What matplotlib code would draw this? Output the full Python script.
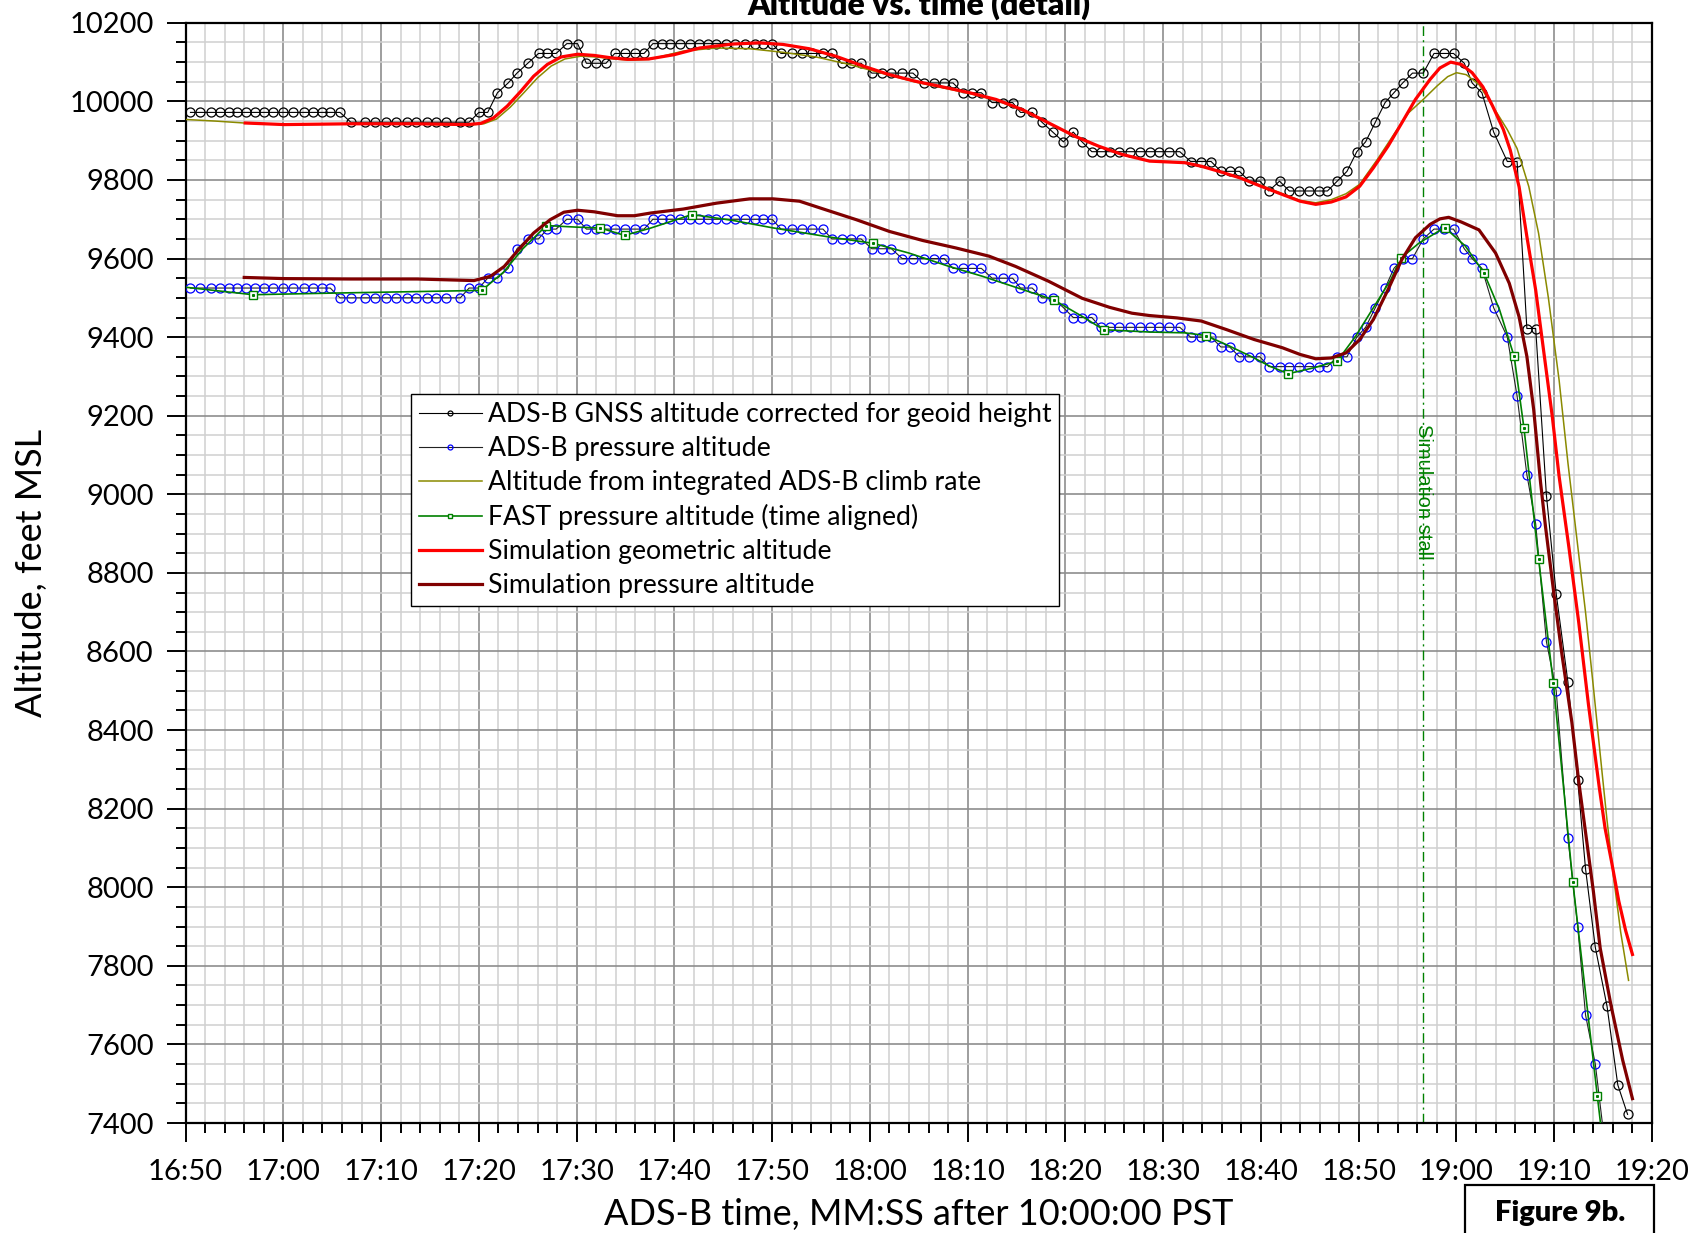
import numpy as np
import matplotlib
matplotlib.use("Agg")
import matplotlib.pyplot as plt
from matplotlib.ticker import MultipleLocator, FuncFormatter
from matplotlib.patches import Rectangle

plt.rcParams['font.family'] = ['Lato', 'DejaVu Sans']

# ADS-B message times (s, shown as MM:SS)
adsb_t = [
    1010.5, 1011.5, 1012.6, 1013.5, 1014.4, 1015.3, 1016.2, 1017.1, 1018.0, 1018.9,
    1020.0, 1021.0, 1022.1, 1023.0, 1024.0, 1024.8, 1025.8, 1026.9, 1028.4, 1029.4,
    1030.5, 1031.5, 1032.7, 1033.6, 1034.7, 1035.6, 1036.6, 1038.1, 1039.0, 1040.0,
    1040.9, 1041.9, 1043.0, 1043.9, 1045.0, 1046.1, 1047.0, 1047.9, 1049.0, 1050.1,
    1051.0, 1052.0, 1053.0, 1053.9, 1054.9, 1056.0, 1056.9,
    1057.8, 1058.7, 1059.6, 1060.6, 1061.6, 1062.5, 1063.4, 1064.3, 1065.3, 1066.2,
    1067.2, 1068.2, 1069.1, 1070.0, 1070.9, 1072.0, 1073.1, 1074.1, 1075.2, 1076.1,
    1077.1, 1078.1, 1079.1, 1080.2, 1081.2, 1082.2, 1083.3, 1084.4, 1085.5, 1086.6,
    1087.6, 1088.5, 1089.5, 1090.4, 1091.4, 1092.5, 1093.6, 1094.6, 1095.4, 1096.6,
    1097.6, 1098.7, 1099.8, 1100.8, 1101.7, 1102.7, 1103.6, 1104.6, 1105.5, 1106.6,
    1107.6, 1108.6,
    1109.6, 1110.6, 1111.7, 1112.8, 1113.9, 1114.9, 1115.9, 1116.8, 1117.8, 1118.8,
    1119.9, 1120.8, 1121.9, 1122.9, 1123.9, 1124.9, 1125.9, 1126.8, 1127.8, 1128.8,
    1129.8, 1130.7, 1131.7, 1132.7, 1133.6, 1134.5, 1135.5, 1136.6, 1137.7, 1138.7,
    1139.7, 1140.8, 1141.6, 1142.6, 1143.8, 1145.2, 1146.2, 1147.2, 1148.1, 1149.2,
    1150.2, 1151.4, 1152.4, 1153.2, 1154.2, 1155.4, 1156.5, 1157.5,
]

gnss_alt = (
    [9972] * 17 + [9947] * 12 + [9972] * 2 + [10022, 10047, 10072, 10097]
    + [10122] * 3 + [10147] * 2 + [10097] * 3 + [10122] * 4
    + [10147] * 14 + [10122] * 6 + [10097] * 3 + [10072] * 5 + [10047] * 4
    + [10022] * 3 + [9997] * 3 + [9972] * 2 + [9947, 9922, 9897, 9922, 9897]
    + [9872] * 7
    + [9872] * 3 + [9847] * 3 + [9822] * 3 + [9797] * 2 + [9772, 9797]
    + [9772] * 5 + [9797, 9822, 9872, 9897, 9947, 9997, 10022, 10047]
    + [10072] * 2 + [10122] * 3 + [10097, 10047, 10022, 9922]
    + [9847] * 2 + [9422] * 2
    + [8997, 8747, 8522, 8272, 8047, 7847, 7697, 7497, 7422]
)

press_alt = (
    [9525] * 16 + [9500] * 12 + [9525] * 2 + [9550] * 2 + [9575, 9625]
    + [9650] * 2 + [9675] * 2 + [9700] * 2 + [9675] * 7
    + [9700] * 14 + [9675] * 5 + [9650] * 4 + [9625] * 3 + [9600] * 5
    + [9575] * 4 + [9550] * 3 + [9525] * 2 + [9500] * 2 + [9475]
    + [9450] * 3 + [9425] * 6
    + [9425] * 3 + [9400] * 3 + [9375] * 2 + [9350] * 3 + [9325] * 7
    + [9350] * 2 + [9400, 9425, 9475, 9525, 9575, 9600, 9600, 9650]
    + [9675] * 3 + [9625, 9600, 9575, 9475, 9400, 9250, 9050, 8925, 8625,
                    8500, 8125, 7900, 7675, 7550, 7300, np.nan, np.nan]
)

# altitude from integrated ADS-B climb rate
climb_t = [1010.0, 1013.0, 1016.0, 1020.0, 1027.0, 1034.0, 1039.0, 1040.5, 1041.8,
           1043.2, 1044.6, 1046.0, 1047.4, 1048.8, 1050.4, 1052.0, 1053.8, 1055.5,
           1057.4, 1060.9, 1064.3, 1067.7, 1071.1, 1074.5, 1077.9, 1081.3, 1084.7,
           1087.4, 1090.2, 1092.9, 1095.6, 1098.3, 1101.0, 1103.4, 1105.8, 1108.6,
           1112.2, 1115.7, 1120.0, 1124.0, 1125.6, 1127.2, 1128.7, 1130.1, 1131.9,
           1133.7, 1135.1, 1136.6, 1138.0, 1139.1, 1140.0, 1141.0, 1142.3, 1143.7,
           1145.2, 1146.2, 1147.4, 1148.4, 1149.4, 1150.5, 1151.4, 1152.3, 1153.2,
           1154.0, 1154.9, 1155.4, 1156.1, 1156.8, 1157.6]
climb_alt = [9954, 9950, 9945, 9941, 9942, 9942, 9940, 9943, 9955,
             9985, 10022, 10060, 10090, 10108, 10115, 10113, 10108, 10105,
             10107, 10128, 10136, 10134, 10125, 10113, 10094, 10071, 10049,
             10035, 10020, 10003, 9977, 9944, 9910, 9885, 9865, 9849,
             9845, 9823, 9786, 9748, 9742, 9750, 9765, 9789, 9852,
             9920, 9971, 10005, 10039, 10063, 10073, 10068, 10043, 9988,
             9928, 9880, 9783, 9664, 9500, 9290, 9080, 8890, 8700,
             8510, 8290, 8170, 8020, 7885, 7763]

# FAST pressure altitude (time aligned)
fast_t = [1010.0, 1016.9, 1024.8, 1040.3, 1042.5, 1044.5, 1046.9, 1050.0, 1052.4,
          1054.9, 1057.5, 1061.8, 1066.0, 1070.1, 1075.8, 1080.3, 1084.0, 1088.1,
          1091.5, 1094.9, 1098.8, 1101.7, 1103.9, 1108.6, 1112.2, 1114.4, 1116.8,
          1119.3, 1120.9, 1122.8, 1125.4, 1127.8, 1129.7, 1131.5, 1133.3, 1134.3,
          1136.2, 1138.8, 1140.9, 1142.8, 1144.4, 1145.9, 1146.9, 1148.4, 1149.9,
          1151.9, 1154.4, 1155.2]
fast_alt = [9527, 9508, 9512, 9519, 9565, 9625, 9684, 9680, 9678,
            9659, 9677, 9712, 9697, 9678, 9655, 9639, 9614, 9580,
            9555, 9527, 9495, 9453, 9419, 9413, 9411, 9404, 9377,
            9347, 9326, 9307, 9322, 9339, 9403, 9475, 9547, 9601,
            9640, 9679, 9632, 9564, 9470, 9351, 9169, 8835, 8521,
            8013, 7470, 7300]
fast_square_t = [1016.9, 1040.3, 1046.9, 1052.4, 1054.9, 1061.8, 1080.3, 1098.8,
                 1103.9, 1114.4, 1122.8, 1127.8, 1134.3, 1138.8, 1142.8, 1145.9,
                 1146.9, 1148.4, 1149.9, 1151.9, 1154.4]

# simulation geometric altitude
sim_geo_t = [1016.1, 1020.1, 1026.9, 1033.7, 1038.8, 1040.2, 1041.5, 1042.9, 1044.3,
             1045.6, 1047.0, 1048.4, 1050.1, 1051.8, 1053.5, 1055.2, 1057.4, 1060.0,
             1062.6, 1066.0, 1068.7, 1071.1, 1073.8, 1076.5, 1079.3, 1082.0, 1084.7,
             1087.4, 1090.2, 1092.9, 1095.6, 1098.3, 1101.0, 1103.4, 1105.8, 1108.6,
             1112.2, 1113.9, 1115.7, 1117.9, 1120.0, 1122.2, 1124.0, 1125.6, 1127.2,
             1128.7, 1130.1, 1131.5, 1133.0, 1134.4, 1135.8, 1137.3, 1138.3, 1139.4,
             1140.5, 1141.6, 1142.7, 1143.7, 1144.8, 1145.5, 1146.4, 1147.2, 1148.1,
             1148.9, 1149.8, 1150.5, 1151.5, 1152.5, 1153.5, 1154.6, 1155.2, 1155.9,
             1156.6, 1157.3, 1158.0]
sim_geo_alt = [9945, 9941, 9943, 9943, 9941, 9944, 9958, 9988, 10026,
               10064, 10094, 10113, 10120, 10117, 10111, 10107, 10108, 10119,
               10136, 10146, 10149, 10145, 10134, 10115, 10090, 10068, 10051,
               10037, 10022, 10005, 9979, 9945, 9911, 9886, 9865, 9848,
               9844, 9835, 9822, 9805, 9784, 9763, 9746, 9738, 9744,
               9757, 9784, 9831, 9886, 9945, 10005, 10056, 10085, 10100,
               10094, 10073, 10037, 9988, 9928, 9876, 9783, 9656, 9520,
               9368, 9198, 9045, 8865, 8675, 8465, 8255, 8150, 8060,
               7965, 7890, 7829]

# simulation pressure altitude
sim_press_t = [1016.0, 1020.1, 1026.9, 1033.7, 1039.5, 1041.2, 1042.6, 1043.9, 1045.6,
               1047.3, 1048.7, 1050.1, 1051.8, 1054.2, 1055.9, 1057.6, 1060.9, 1064.3,
               1067.7, 1070.1, 1072.8, 1075.5, 1078.6, 1082.0, 1085.4, 1088.8, 1092.2,
               1094.9, 1098.3, 1101.7, 1104.5, 1106.8, 1108.6, 1111.4, 1113.9, 1116.5,
               1119.3, 1122.2, 1124.0, 1125.6, 1127.2, 1128.7, 1130.1, 1131.5, 1133.0,
               1134.4, 1135.8, 1137.3, 1138.3, 1139.2, 1140.5, 1142.3, 1144.0, 1145.4,
               1146.4, 1147.2, 1147.9, 1148.6, 1149.1, 1149.95, 1150.8, 1151.8, 1152.5,
               1153.2, 1154.0, 1154.7, 1155.8, 1157.0, 1158.0]
sim_press_alt = [9552, 9549, 9548, 9548, 9544, 9555, 9580, 9618, 9665,
                 9699, 9718, 9723, 9719, 9709, 9709, 9716, 9726, 9741,
                 9752, 9752, 9746, 9724, 9699, 9669, 9646, 9627, 9606,
                 9580, 9542, 9499, 9476, 9461, 9455, 9449, 9441, 9419,
                 9394, 9373, 9356, 9345, 9347, 9360, 9394, 9445, 9521,
                 9597, 9653, 9687, 9701, 9705, 9693, 9673, 9614, 9537,
                 9452, 9351, 9215, 9030, 8919, 8750, 8590, 8420, 8270,
                 8140, 7990, 7845, 7700, 7560, 7462]

stall_t = 1136.6

labels = [
    "ADS-B GNSS altitude corrected for geoid height",
    "ADS-B pressure altitude",
    "Altitude from integrated ADS-B climb rate",
    "FAST pressure altitude (time aligned)",
    "Simulation geometric altitude",
    "Simulation pressure altitude",
]


def mmss(v, pos):
    return f"{int(v // 60)}:{int(round(v % 60)):02d}"


fig = plt.figure(figsize=(17.01, 12.33), dpi=100)
ax = fig.add_axes([0.1091, 0.0892, 0.8621, 0.8923])

green = "#008000"
square_idx = list(np.nonzero(np.isin(fast_t, fast_square_t))[0])

ax.plot(adsb_t, gnss_alt, color="black", lw=0.8, marker="o", ms=6.5,
        mfc="none", mec="black", mew=0.9, label=labels[0], zorder=3)
ax.plot(adsb_t, press_alt, color="#222222", lw=0.8, marker="o", ms=6.5,
        mfc="none", mec="blue", mew=0.9, label=labels[1], zorder=3)
ax.plot(climb_t, climb_alt, color="#8a8a00", lw=1.1, label=labels[2], zorder=3)
ax.plot(fast_t, fast_alt, color=green, lw=1.2, marker="s", ms=6, mfc="white",
        mec=green, mew=1.0, markevery=square_idx, label=labels[3], zorder=3)
ax.plot(np.array(fast_t)[square_idx], np.array(fast_alt)[square_idx], ls="none",
        marker="s", ms=1.2, color=green, zorder=3)
ax.plot(sim_geo_t, sim_geo_alt, color="#ff0000", lw=2.3, label=labels[4], zorder=4)
ax.plot(sim_press_t, sim_press_alt, color="#800000", lw=2.3, label=labels[5], zorder=4)

ax.axvline(stall_t, color=green, lw=1.0, ls=(0, (7, 3, 1.5, 3)), zorder=2)
ax.text(stall_t, 9007, "Simulation stall", rotation=270, ha="center", va="center",
        color=green, fontsize=14.5, family=["Liberation Sans", "DejaVu Sans"], zorder=2)

ax.set_xlim(1010, 1160)
ax.set_ylim(7400, 10200)
ax.xaxis.set_major_locator(MultipleLocator(10))
ax.xaxis.set_minor_locator(MultipleLocator(2))
ax.yaxis.set_major_locator(MultipleLocator(200))
ax.yaxis.set_minor_locator(MultipleLocator(50))
ax.xaxis.set_major_formatter(FuncFormatter(mmss))

ax.grid(which="major", color="#8e8e8e", lw=1.2, zorder=0)
ax.grid(which="minor", color="#d0d0d0", lw=1.1, zorder=0)
ax.set_axisbelow(True)

ax.tick_params(which="major", direction="out", length=14, width=1.4, pad=9,
               labelsize=21, top=False, right=False)
ax.tick_params(axis="x", which="major", pad=12)
ax.tick_params(which="minor", direction="out", length=7, width=1.4,
               top=False, right=False)
for s in ax.spines.values():
    s.set_linewidth(1.6)

ax.set_ylabel("Altitude, feet MSL", fontsize=26)
ax.yaxis.set_label_coords(-0.0935, 0.5)
ax.set_xlabel("ADS-B time, MM:SS after 10:00:00 PST", fontsize=26)
ax.xaxis.set_label_coords(0.5, -0.068)

leg = ax.legend(loc="upper left", bbox_to_anchor=(0.1538, 0.6626), fontsize=19.2,
                frameon=True, fancybox=False, edgecolor="black", framealpha=1,
                borderaxespad=0, handlelength=2.35, handletextpad=0.22,
                labelspacing=0.34, borderpad=0.3, markerscale=0.55)
leg.get_frame().set_linewidth(1.0)

fig.text(0.5403, 1 - 15 / 1233, "Altitude vs. time (detail)", ha="center",
         va="baseline", fontsize=23, fontweight="heavy")

fig.add_artist(Rectangle((1465 / 1701, -0.05), 189 / 1701, 0.05 + 48 / 1233,
                         transform=fig.transFigure, facecolor="white",
                         edgecolor="black", lw=1.6))
fig.text(1560 / 1701, 1 - 1213 / 1233, "Figure 9b.", ha="center", va="center",
         fontsize=21, fontweight="heavy")

fig.savefig("out.png", dpi=100)
